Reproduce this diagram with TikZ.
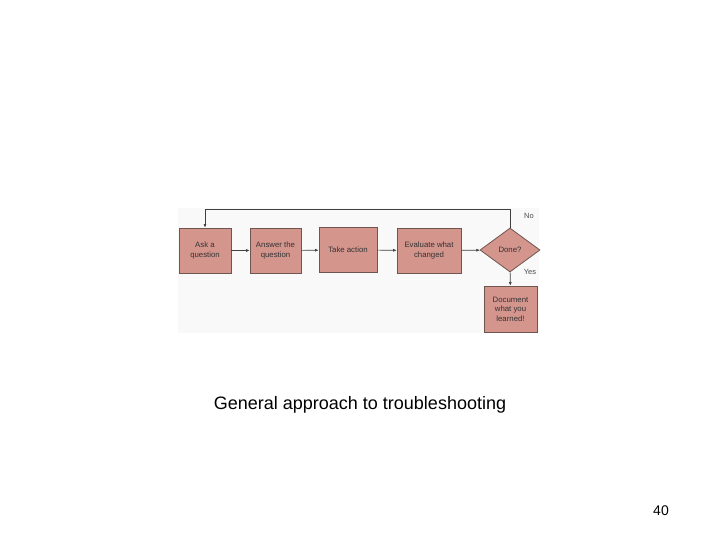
\documentclass[tikz,border=0pt]{standalone}
\usepackage{fontspec}
\setmainfont{Liberation Sans}
\usetikzlibrary{shapes.geometric,arrows.meta}
\definecolor{boxfill}{HTML}{D4958D}
\definecolor{boxline}{HTML}{6E5550}
\definecolor{imgbg}{HTML}{F9F9F9}
\tikzset{
  stepbox/.style={draw=boxline, fill=boxfill, line width=0.8pt, minimum width=51pt, minimum height=45pt, inner sep=1pt, align=center, font=\fontsize{7.8}{9.5}\selectfont, text=black!80},
  decide/.style={diamond, draw=boxline, fill=boxfill, line width=0.8pt, inner sep=0pt, aspect=1.36, font=\fontsize{7.8}{9.5}\selectfont, text=black!80},
  conn/.style={draw=black!75, line width=0.6pt, -{Latex[length=3.5pt,width=3pt]}},
  lbl/.style={font=\fontsize{7.5}{9}\selectfont, text=black!70}
}
\begin{document}
\begin{tikzpicture}[x=1pt,y=-1pt]
\useasboundingbox (0,0) rectangle (720,540);
\fill[white] (0,0) rectangle (720,540);
\fill[imgbg] (178,208) rectangle (539,333);
\node[stepbox, minimum width=52pt] (ask) at (205,250.5) {Ask a\\question};
\node[stepbox] (ans) at (275.5,250.5) {Answer the\\question};
\node[stepbox, minimum width=58pt] (act) at (348,250) {Take action};
\node[stepbox, minimum width=64pt] (eval) at (429,250.5) {Evaluate what\\changed};
\node[decide, minimum width=60pt, minimum height=44pt] (done) at (510,250) {Done?};
\node[stepbox, minimum width=53pt, minimum height=46pt] (doc) at (510.5,309) {Document\\what you\\learned!};
\coordinate (c1) at (510,209);
\coordinate (c2) at (205,209);
\draw[conn] (ask) -- (ans);
\draw[conn] (ans) -- (act);
\draw[conn] (act) -- (eval);
\draw[conn] (eval) -- (done);
\draw[conn] (done) -- (doc);
\draw[conn] (done.north) -- (c1) -- (c2) -- (ask.north);
\node[lbl] (no) at (529,216) {No};
\node[lbl] (yes) at (530,272) {Yes};
\node[font=\fontsize{18}{21}\selectfont] (cap) at (360,405) {General approach to troubleshooting};
\node[font=\fontsize{14}{17}\selectfont] (pg) at (661,511) {40};
\end{tikzpicture}
\end{document}
